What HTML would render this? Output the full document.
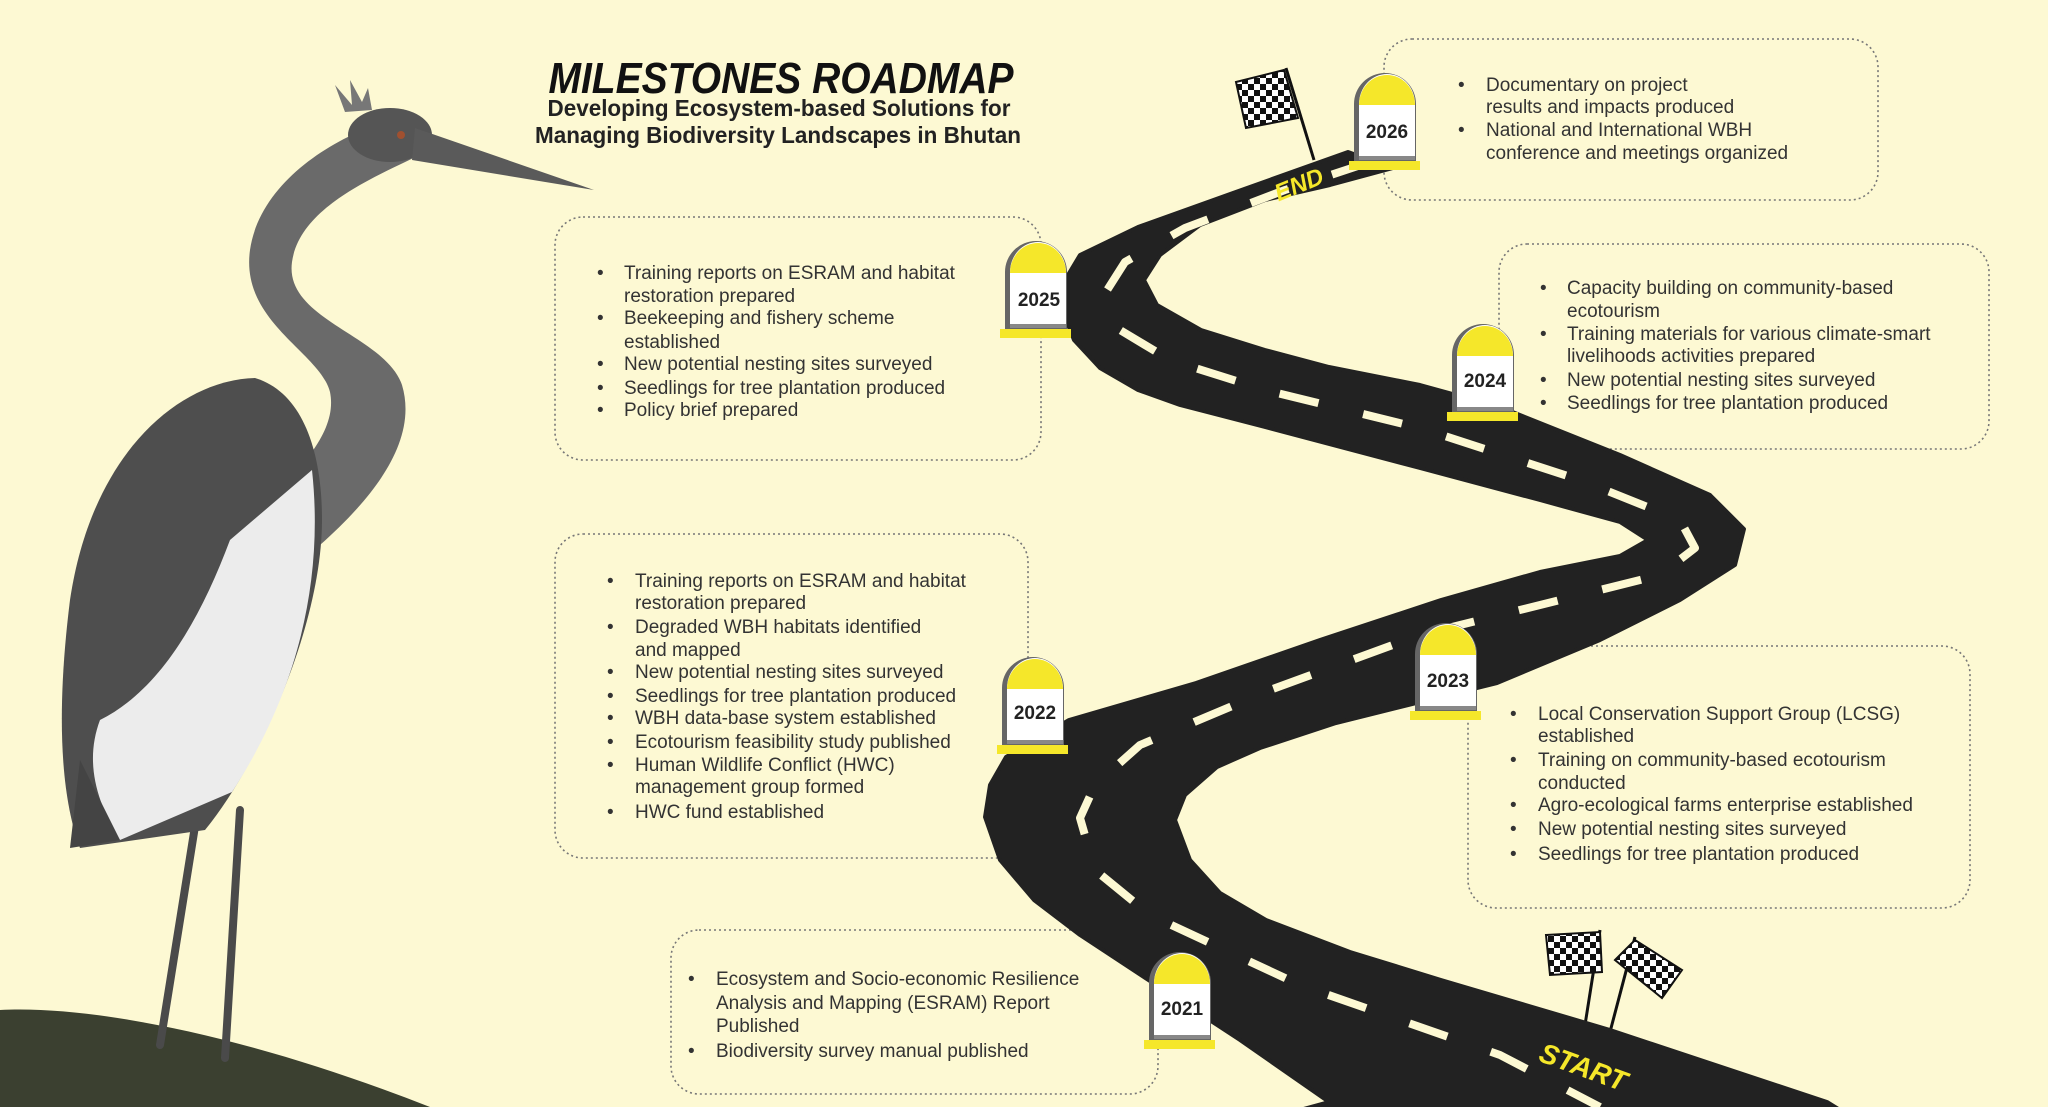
<!DOCTYPE html>
<html><head><meta charset="utf-8"><style>
html,body{margin:0;padding:0;background:#fdf9d3;}
svg{display:block;}
.t{font-family:"Liberation Sans",sans-serif;font-size:19px;fill:#333;}
.y{font-family:"Liberation Sans",sans-serif;font-size:19px;font-weight:bold;fill:#222;}
</style></head><body>
<svg width="2048" height="1107" viewBox="0 0 2048 1107" xmlns="http://www.w3.org/2000/svg">
<defs>
<pattern id="chk" width="12" height="12" patternUnits="userSpaceOnUse">
<rect width="12" height="12" fill="#fff"/><rect width="6" height="6" fill="#111"/><rect x="6" y="6" width="6" height="6" fill="#111"/>
</pattern>
<g id="ms">
<rect x="0" y="89" width="71" height="9" fill="#f5e72a"/>
<path d="M5,89 V32 A31,31 0 0 1 67,32 V89 Z" fill="#666"/>
<path d="M10,86 V32 A28,30 0 0 1 66,32 V86 Z" fill="#fff"/>
<path d="M10,33 A28,30 0 0 1 66,33 Z" fill="#f5e72a"/>
<rect x="10" y="84" width="56" height="4" fill="#888"/>
</g>
</defs>
<rect width="2048" height="1107" fill="#fdf9d3"/>

<!-- boxes -->
<g fill="none" stroke="#777" stroke-width="1.6" stroke-dasharray="2 3">
<rect x="1384" y="39" width="494" height="161" rx="28"/>
<rect x="555" y="217" width="486" height="243" rx="28"/>
<rect x="1499" y="244" width="490" height="205" rx="28"/>
<rect x="555" y="534" width="473" height="324" rx="28"/>
<rect x="1468" y="646" width="502" height="262" rx="28"/>
<rect x="671" y="930" width="487" height="164" rx="28"/>
</g>

<!-- title -->
<text x="781" y="93" text-anchor="middle" textLength="465" lengthAdjust="spacingAndGlyphs" style="font-family:'Liberation Sans',sans-serif;font-size:44px;font-weight:bold;font-style:italic;fill:#111">MILESTONES ROADMAP</text>
<text x="779" y="116" text-anchor="middle" textLength="463" lengthAdjust="spacingAndGlyphs" style="font-family:'Liberation Sans',sans-serif;font-size:23px;font-weight:bold;fill:#222">Developing Ecosystem-based Solutions for</text>
<text x="778" y="143" text-anchor="middle" textLength="486" lengthAdjust="spacingAndGlyphs" style="font-family:'Liberation Sans',sans-serif;font-size:23px;font-weight:bold;fill:#222">Managing Biodiversity Landscapes in Bhutan</text>

<!-- heron -->
<path d="M0,1010 C100,1005 260,1040 430,1107 L0,1107 Z" fill="#3b4030"/>
<g stroke="#4a4a4a" stroke-width="8" fill="none" stroke-linecap="round">
<path d="M196,820 L160,1045"/><path d="M240,810 L225,1058"/>
</g>
<path d="M430,150 C380,175 300,205 292,262 C284,320 385,335 402,385 C420,445 365,505 320,545 L250,520 C300,470 338,432 330,392 C320,352 240,322 250,250 C260,180 340,132 400,118 Z" fill="#6a6a6a"/>
<ellipse cx="390" cy="135" rx="42" ry="27" fill="#555"/>
<path d="M345,112 L335,85 L352,105 L350,80 L362,102 L368,88 L372,110 Z" fill="#777"/>
<polygon points="415,128 594,190 412,160" fill="#5a5a5a"/>
<circle cx="401" cy="135" r="4" fill="#a05030"/>
<path d="M255,378 C180,380 92,452 70,600 C55,720 62,800 80,848 L205,830 C262,760 322,622 322,520 C322,450 302,392 255,378 Z" fill="#4e4e4e"/>
<path d="M312,470 C325,590 292,700 232,792 L120,840 C95,800 85,760 100,720 C160,690 200,620 230,540 Z" fill="#ececec"/>
<path d="M80,760 L120,840 L70,848 Z" fill="#444"/>

<!-- flags -->
<line x1="1286" y1="68" x2="1314" y2="160" stroke="#111" stroke-width="3"/>
<polygon points="1236,82 1284,70 1298,118 1246,128" fill="url(#chk)" stroke="#111" stroke-width="2"/>
<line x1="1585" y1="1025" x2="1600" y2="930" stroke="#111" stroke-width="3"/>
<line x1="1610" y1="1032" x2="1635" y2="937" stroke="#111" stroke-width="3"/>
<polygon points="1546,935 1600,932 1602,972 1550,975" fill="url(#chk)" stroke="#111" stroke-width="2"/>
<polygon points="1615,960 1635,940 1682,970 1662,998" fill="url(#chk)" stroke="#111" stroke-width="2"/>

<!-- road -->
<path d="M1393,168 L1330,185 L1265,200 L1200,225 L1160,255 L1144,280 L1157,305 L1201,330 L1265,350 L1329,367 L1420,385 L1500,407 L1620,455 L1710,495 L1744,529 L1735,565 L1680,600 L1600,640 L1497,683 L1336,723 L1260,748 L1217,767 L1185,795 L1175,820 L1190,860 L1220,893 L1266,920 L1350,952 L1441,980 L1610,1030 L1827,1102 L1840,1110 L1300,1110 L1329,1102 L1240,1040 L1153,983 L1080,935 L1034,900 L1000,860 L985,817 L990,785 L1006,757 L1069,720 L1196,683 L1320,640 L1441,600 L1540,572 L1620,556 L1648,540 L1620,522 L1540,500 L1420,468 L1265,427 L1180,405 L1138,390 L1100,368 L1074,340 L1061,307 L1065,280 L1080,255 L1138,227 L1233,193 L1348,152 Z" fill="#222" stroke="#222" stroke-width="4" stroke-linejoin="round"/>
<polyline points="1370,162 1285,190 1185,228 1125,262 1104,295 1120,330 1170,360 1265,390 1420,428 1580,480 1680,520 1695,548 1660,575 1560,600 1420,635 1270,690 1140,745 1095,785 1080,818 1095,870 1150,915 1300,985 1500,1055 1600,1107" fill="none" stroke="#fdf9d3" stroke-width="8" stroke-dasharray="40 46" stroke-linejoin="round"/>
<text transform="translate(1302,192) rotate(-22)" text-anchor="middle" style="font-family:'Liberation Sans',sans-serif;font-size:24px;font-weight:bold;font-style:italic;fill:#f5e72a">END</text>
<text transform="translate(1580,1076) rotate(20)" text-anchor="middle" style="font-family:'Liberation Sans',sans-serif;font-size:28px;font-weight:bold;font-style:italic;fill:#f5e72a">START</text>

<!-- milestones -->
<use href="#ms" x="1349" y="72"/><text class="y" x="1387" y="138" text-anchor="middle">2026</text>
<use href="#ms" x="1000" y="240"/><text class="y" x="1039" y="306" text-anchor="middle">2025</text>
<use href="#ms" x="1447" y="323"/><text class="y" x="1485" y="387" text-anchor="middle">2024</text>
<use href="#ms" x="1410" y="622"/><text class="y" x="1448" y="687" text-anchor="middle">2023</text>
<use href="#ms" x="997" y="656"/><text class="y" x="1035" y="719" text-anchor="middle">2022</text>
<use href="#ms" x="1144" y="951"/><text class="y" x="1182" y="1015" text-anchor="middle">2021</text>

<!-- lists -->
<g class="t">
<text x="1458" y="91">•</text><text x="1486" y="91">Documentary on  project</text>
<text x="1486" y="113">results and impacts produced</text>
<text x="1458" y="136">•</text><text x="1486" y="136">National and International WBH</text>
<text x="1486" y="159">conference and meetings organized</text>

<text x="597" y="279">•</text><text x="624" y="279">Training reports on ESRAM and habitat</text>
<text x="624" y="302">restoration prepared</text>
<text x="597" y="324">•</text><text x="624" y="324">Beekeeping and fishery scheme</text>
<text x="624" y="348">established</text>
<text x="597" y="370">•</text><text x="624" y="370">New potential nesting sites surveyed</text>
<text x="597" y="394">•</text><text x="624" y="394">Seedlings for tree plantation produced</text>
<text x="597" y="416">•</text><text x="624" y="416">Policy brief prepared</text>

<text x="1540" y="294">•</text><text x="1567" y="294">Capacity building on community-based</text>
<text x="1567" y="317">ecotourism</text>
<text x="1540" y="340">•</text><text x="1567" y="340">Training materials for various climate-smart</text>
<text x="1567" y="362">livelihoods activities prepared</text>
<text x="1540" y="386">•</text><text x="1567" y="386">New potential nesting sites surveyed</text>
<text x="1540" y="409">•</text><text x="1567" y="409">Seedlings for tree plantation produced</text>

<text x="607" y="587">•</text><text x="635" y="587">Training reports on ESRAM and habitat</text>
<text x="635" y="609">restoration prepared</text>
<text x="607" y="633">•</text><text x="635" y="633">Degraded WBH habitats identified</text>
<text x="635" y="656">and mapped</text>
<text x="607" y="678">•</text><text x="635" y="678">New potential nesting sites surveyed</text>
<text x="607" y="702">•</text><text x="635" y="702">Seedlings for tree plantation produced</text>
<text x="607" y="724">•</text><text x="635" y="724">WBH data-base system established</text>
<text x="607" y="748">•</text><text x="635" y="748">Ecotourism feasibility study published</text>
<text x="607" y="771">•</text><text x="635" y="771">Human Wildlife Conflict (HWC)</text>
<text x="635" y="793">management group formed</text>
<text x="607" y="818">•</text><text x="635" y="818">HWC fund established</text>

<text x="1510" y="720">•</text><text x="1538" y="720">Local Conservation Support Group (LCSG)</text>
<text x="1538" y="742">established</text>
<text x="1510" y="766">•</text><text x="1538" y="766">Training on community-based ecotourism</text>
<text x="1538" y="789">conducted</text>
<text x="1510" y="811">•</text><text x="1538" y="811">Agro-ecological farms enterprise established</text>
<text x="1510" y="835">•</text><text x="1538" y="835">New potential nesting sites surveyed</text>
<text x="1510" y="860">•</text><text x="1538" y="860">Seedlings for tree plantation produced</text>

<text x="688" y="985">•</text><text x="716" y="985">Ecosystem and Socio-economic Resilience</text>
<text x="716" y="1009">Analysis and Mapping (ESRAM) Report</text>
<text x="716" y="1032">Published</text>
<text x="688" y="1057">•</text><text x="716" y="1057">Biodiversity survey manual published</text>
</g>
</svg>
</body></html>
